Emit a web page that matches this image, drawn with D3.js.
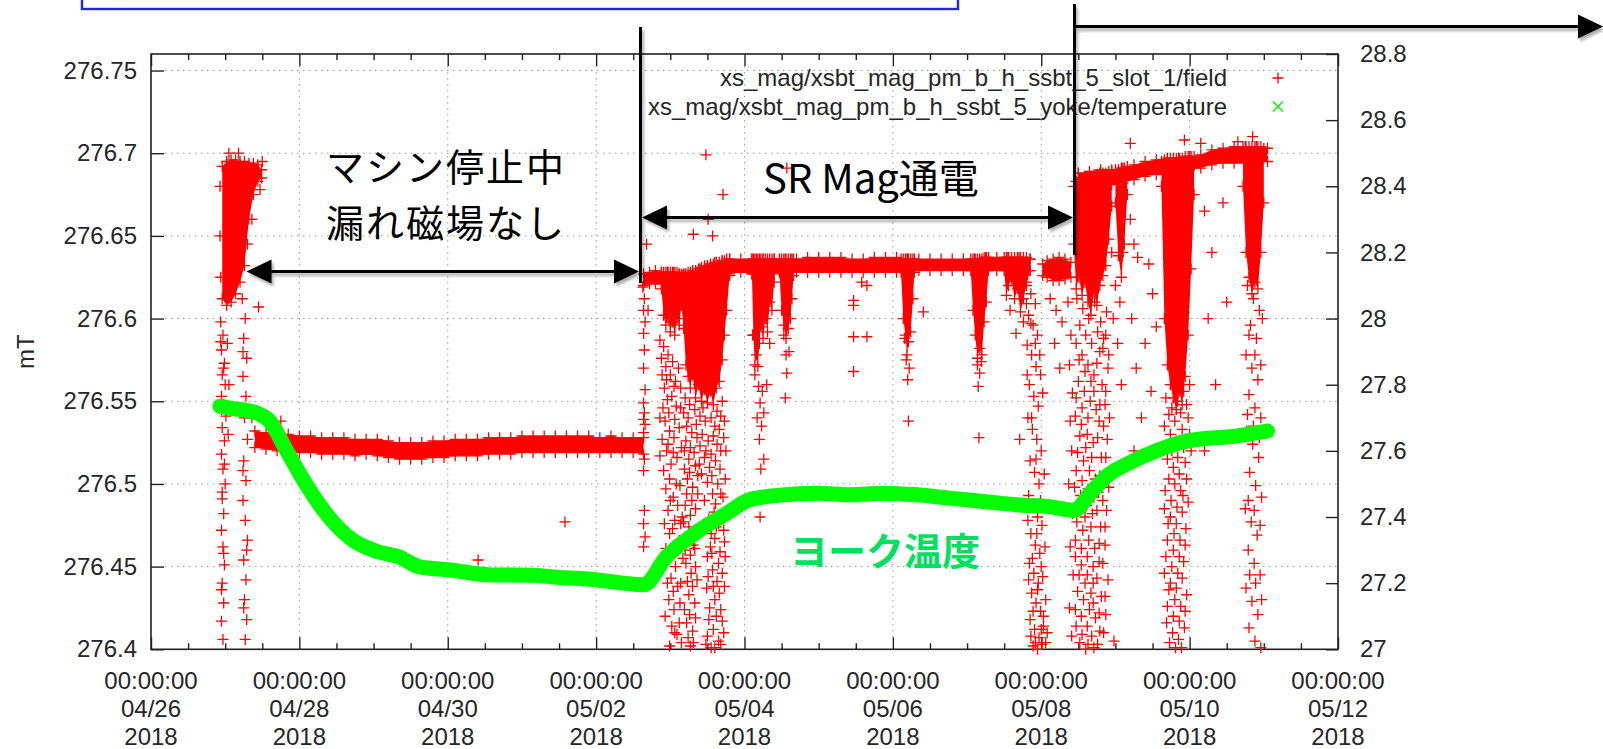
<!DOCTYPE html>
<html lang="ja">
<head>
<meta charset="utf-8">
<title>xsbt magnet field and yoke temperature</title>
<script src="https://cdn.jsdelivr.net/npm/d3@7/dist/d3.min.js"></script>
<style>
  html, body { margin: 0; padding: 0; background: #fff; }
  svg { display: block; }
  .lbl { font-family: "Liberation Sans", Arial, sans-serif; font-size: 24px; fill: #262626; }
  .note { font-family: "Noto Sans CJK JP", "Noto Sans CJK SC", sans-serif; }
</style>
</head>
<body>
<svg id="chart" width="1603" height="749"></svg>
<script>
// ---------- axes ----------
const xTickDates = ["2018-04-26", "2018-04-28", "2018-04-30", "2018-05-02", "2018-05-04",
                    "2018-05-06", "2018-05-08", "2018-05-10", "2018-05-12"];
const fieldTicks = [276.4, 276.45, 276.5, 276.55, 276.6, 276.65, 276.7, 276.75];
const tempTicks = [27, 27.2, 27.4, 27.6, 27.8, 28, 28.2, 28.4, 28.6, 28.8];
const fieldRange = [276.4, 276.76];
const tempRange = [27, 28.8];
const seriesNames = ["xs_mag/xsbt_mag_pm_b_h_ssbt_5_slot_1/field",
                     "xs_mag/xsbt_mag_pm_b_h_ssbt_5_yoke/temperature"];

// ---------- yoke temperature: days since 04/26 00:00, degC ----------
const tempDay = [0.93, 1.10, 1.30, 1.45, 1.60, 1.82, 2.10, 2.38, 2.72, 3.06, 3.34, 3.61, 4.03, 4.58,
                 5.13, 5.47, 5.96, 6.37, 6.64, 6.95, 7.40, 7.76, 8.07, 8.52, 8.97, 9.42, 9.87, 10.32,
                 10.77, 11.22, 11.67, 12.12, 12.44, 12.67, 12.89, 13.21, 13.57, 13.93, 14.24, 14.55,
                 14.91, 15.05];
const tempC = [27.735, 27.728, 27.722, 27.712, 27.690, 27.604, 27.495, 27.405, 27.330, 27.295, 27.280,
               27.250, 27.240, 27.225, 27.224, 27.218, 27.211, 27.200, 27.195, 27.280, 27.361, 27.411,
               27.452, 27.467, 27.472, 27.467, 27.472, 27.467, 27.457, 27.447, 27.437, 27.431, 27.420,
               27.474, 27.525, 27.566, 27.602, 27.628, 27.638, 27.643, 27.655, 27.660];

// ---------- field: dense runs of readings as [day, lowest, highest] (mT) ----------
const bandFirst = [[0.96, 276.612, 276.692], [1.02, 276.608, 276.695], [1.08, 276.610, 276.696],
  [1.14, 276.615, 276.696], [1.20, 276.622, 276.695], [1.26, 276.632, 276.695], [1.32, 276.660, 276.694],
  [1.38, 276.675, 276.694], [1.44, 276.683, 276.693], [1.49, 276.685, 276.690]];
const bandStop = [[1.40, 276.522, 276.532], [1.55, 276.521, 276.531], [1.70, 276.520, 276.530],
  [1.85, 276.520, 276.530], [2.00, 276.519, 276.529], [2.15, 276.519, 276.529], [2.30, 276.518, 276.528],
  [2.45, 276.518, 276.528], [2.60, 276.518, 276.528], [2.75, 276.517, 276.527], [2.90, 276.518, 276.527],
  [3.05, 276.517, 276.527], [3.20, 276.516, 276.526], [3.35, 276.515, 276.525], [3.50, 276.515, 276.525],
  [3.65, 276.515, 276.525], [3.80, 276.516, 276.526], [3.95, 276.516, 276.526], [4.10, 276.517, 276.527],
  [4.25, 276.517, 276.527], [4.40, 276.517, 276.527], [4.55, 276.518, 276.528], [4.70, 276.518, 276.528],
  [4.85, 276.518, 276.528], [5.00, 276.519, 276.529], [5.15, 276.519, 276.529], [5.30, 276.519, 276.529],
  [5.45, 276.519, 276.529], [5.60, 276.519, 276.529], [5.75, 276.519, 276.529], [5.90, 276.519, 276.529],
  [6.05, 276.519, 276.528], [6.20, 276.519, 276.529], [6.35, 276.519, 276.528], [6.50, 276.519, 276.528],
  [6.64, 276.518, 276.528]];
const bandRestart = [[6.64, 276.620, 276.627], [6.72, 276.621, 276.628], [6.80, 276.621, 276.629],
  [6.88, 276.621, 276.628], [6.96, 276.620, 276.628], [7.04, 276.621, 276.628], [7.12, 276.621, 276.627],
  [7.16, 276.622, 276.626]];
const bandRun = [[7.20, 276.620, 276.627], [7.30, 276.621, 276.628], [7.40, 276.622, 276.630],
  [7.50, 276.624, 276.632], [7.60, 276.625, 276.634], [7.70, 276.626, 276.635], [7.80, 276.627, 276.636],
  [7.95, 276.628, 276.636], [8.10, 276.627, 276.636], [8.25, 276.627, 276.636], [8.40, 276.627, 276.636],
  [8.55, 276.628, 276.636], [8.70, 276.628, 276.636], [8.85, 276.628, 276.637], [9.00, 276.628, 276.637],
  [9.15, 276.628, 276.637], [9.30, 276.628, 276.637], [9.45, 276.628, 276.636], [9.60, 276.628, 276.636],
  [9.75, 276.628, 276.637], [9.90, 276.628, 276.637], [10.05, 276.628, 276.637], [10.20, 276.628, 276.636],
  [10.35, 276.629, 276.636], [10.50, 276.629, 276.636], [10.65, 276.629, 276.636], [10.80, 276.629, 276.636],
  [10.95, 276.629, 276.636], [11.10, 276.629, 276.636], [11.25, 276.629, 276.637], [11.40, 276.629, 276.637],
  [11.55, 276.629, 276.637], [11.70, 276.628, 276.637], [11.85, 276.629, 276.636]];
const bandPause = [[12.02, 276.626, 276.633], [12.08, 276.625, 276.635], [12.16, 276.623, 276.636],
  [12.24, 276.623, 276.637], [12.32, 276.624, 276.636], [12.40, 276.625, 276.634]];
const bandLate = [[12.50, 276.678, 276.688], [12.65, 276.679, 276.689], [12.80, 276.680, 276.690],
  [12.95, 276.681, 276.690], [13.10, 276.682, 276.691], [13.25, 276.684, 276.693], [13.40, 276.686, 276.695],
  [13.55, 276.687, 276.696], [13.70, 276.688, 276.697], [13.85, 276.689, 276.697], [14.00, 276.690, 276.698],
  [14.15, 276.691, 276.699], [14.30, 276.693, 276.702], [14.45, 276.694, 276.703], [14.60, 276.694, 276.704],
  [14.75, 276.694, 276.704], [14.90, 276.695, 276.704], [15.05, 276.695, 276.703]];

// solid drop-outs hanging from the runs, [day, lowest, highest]
const dropSolid = [
  [[6.88, 276.618, 276.628], [6.91, 276.602, 276.628], [6.94, 276.596, 276.628], [6.97, 276.600, 276.628],
   [7.00, 276.592, 276.628], [7.03, 276.598, 276.628], [7.06, 276.590, 276.628], [7.09, 276.600, 276.628],
   [7.12, 276.596, 276.627], [7.15, 276.608, 276.627], [7.18, 276.594, 276.627], [7.21, 276.572, 276.627],
   [7.24, 276.565, 276.628], [7.27, 276.558, 276.628], [7.30, 276.566, 276.629], [7.34, 276.552, 276.629],
   [7.38, 276.560, 276.630], [7.42, 276.550, 276.631], [7.46, 276.557, 276.632], [7.50, 276.549, 276.632],
   [7.54, 276.556, 276.633], [7.58, 276.548, 276.633], [7.62, 276.558, 276.634], [7.66, 276.562, 276.634],
   [7.70, 276.575, 276.635], [7.73, 276.590, 276.635], [7.76, 276.605, 276.636], [7.80, 276.626, 276.636]],
  [[8.10, 276.627, 276.636], [8.12, 276.590, 276.636], [8.14, 276.572, 276.636], [8.16, 276.578, 276.636],
   [8.18, 276.571, 276.636], [8.20, 276.585, 276.636], [8.22, 276.595, 276.636], [8.25, 276.588, 276.636],
   [8.28, 276.600, 276.636], [8.31, 276.592, 276.636], [8.34, 276.610, 276.636], [8.37, 276.605, 276.636],
   [8.40, 276.622, 276.636]],
  [[8.47, 276.628, 276.636], [8.50, 276.605, 276.636], [8.53, 276.596, 276.636], [8.56, 276.588, 276.636],
   [8.59, 276.594, 276.636], [8.62, 276.600, 276.636], [8.64, 276.612, 276.636], [8.66, 276.626, 276.636]],
  [[10.11, 276.628, 276.636], [10.14, 276.600, 276.636], [10.17, 276.590, 276.636], [10.19, 276.578, 276.636],
   [10.21, 276.586, 276.636], [10.24, 276.592, 276.636], [10.27, 276.612, 276.636], [10.29, 276.628, 276.636]],
  [[11.05, 276.629, 276.636], [11.08, 276.605, 276.636], [11.11, 276.590, 276.636], [11.14, 276.576, 276.636],
   [11.17, 276.582, 276.636], [11.20, 276.578, 276.636], [11.23, 276.598, 276.637], [11.26, 276.610, 276.637],
   [11.29, 276.629, 276.637]],
  [[11.50, 276.629, 276.637], [11.53, 276.614, 276.637], [11.56, 276.620, 276.637], [11.60, 276.624, 276.637],
   [11.64, 276.612, 276.637], [11.68, 276.618, 276.637], [11.72, 276.604, 276.637], [11.76, 276.612, 276.637],
   [11.80, 276.620, 276.637], [11.85, 276.629, 276.636]],
  [[12.44, 276.645, 276.680], [12.47, 276.618, 276.683], [12.51, 276.625, 276.684], [12.55, 276.614, 276.685],
   [12.59, 276.622, 276.685], [12.63, 276.610, 276.686], [12.67, 276.602, 276.686], [12.71, 276.616, 276.687],
   [12.75, 276.608, 276.687], [12.79, 276.620, 276.688], [12.83, 276.626, 276.688], [12.87, 276.632, 276.688],
   [12.91, 276.648, 276.689], [12.95, 276.668, 276.689]],
  [[13.00, 276.670, 276.690], [13.04, 276.638, 276.690], [13.08, 276.625, 276.691], [13.12, 276.645, 276.691],
   [13.16, 276.675, 276.692]],
  [[13.62, 276.680, 276.695], [13.66, 276.600, 276.696], [13.70, 276.572, 276.696], [13.74, 276.560, 276.697],
   [13.78, 276.552, 276.697], [13.82, 276.545, 276.697], [13.86, 276.556, 276.697], [13.90, 276.548, 276.697],
   [13.94, 276.565, 276.698], [13.98, 276.590, 276.698], [14.02, 276.630, 276.698], [14.06, 276.675, 276.698]],
  [[14.72, 276.680, 276.704], [14.76, 276.640, 276.704], [14.80, 276.625, 276.704], [14.84, 276.615, 276.704],
   [14.88, 276.622, 276.704], [14.92, 276.618, 276.704], [14.96, 276.640, 276.704], [15.00, 276.670, 276.703]]
];

// ---------- field: single readings [day, mT] ----------
const scatterStop = [
  [0.93, 276.650], [0.93, 276.680], [0.94, 276.625], [1.05, 276.700], [1.18, 276.700], [1.50, 276.695],
  [1.47, 276.678], [1.36, 276.660], [1.30, 276.645],
  [0.94, 276.598], [0.97, 276.590], [0.95, 276.581], [0.99, 276.573], [0.96, 276.566], [1.00, 276.560],
  [0.95, 276.553], [0.98, 276.548], [1.01, 276.541], [0.96, 276.534], [0.99, 276.526], [0.95, 276.518],
  [0.97, 276.509], [1.00, 276.500], [0.96, 276.491], [0.98, 276.482], [0.95, 276.472], [0.97, 276.462],
  [0.99, 276.451], [0.96, 276.440], [0.98, 276.428], [0.95, 276.417], [0.97, 276.406], [1.03, 276.585],
  [1.05, 276.560], [1.04, 276.530],
  [0.94, 276.586], [0.98, 276.570], [0.95, 276.545], [0.99, 276.512], [0.96, 276.495], [0.98, 276.458],
  [0.95, 276.436],
  [1.23, 276.612], [1.27, 276.600], [1.25, 276.588], [1.29, 276.576], [1.24, 276.565], [1.28, 276.553],
  [1.26, 276.540], [1.30, 276.527], [1.25, 276.514], [1.28, 276.502], [1.24, 276.490], [1.27, 276.478],
  [1.30, 276.466], [1.25, 276.454], [1.28, 276.442], [1.26, 276.430], [1.29, 276.418], [1.27, 276.406],
  [1.24, 276.580], [1.27, 276.545], [1.24, 276.508], [1.29, 276.460], [1.25, 276.425],
  [1.33, 276.545], [1.36, 276.540], [1.45, 276.607], [1.60, 276.540], [1.75, 276.538],
  [4.41, 276.454], [5.58, 276.477]
];
const scatterRestart = [
  [6.63, 276.619], [6.65, 276.612], [6.64, 276.605], [6.66, 276.598], [6.64, 276.591], [6.65, 276.581],
  [6.64, 276.570], [6.66, 276.557], [6.64, 276.549], [6.65, 276.543], [6.64, 276.539], [6.66, 276.536],
  [6.64, 276.531], [6.65, 276.515], [6.64, 276.508], [6.65, 276.484], [6.64, 276.476], [6.66, 276.468],
  [6.64, 276.462], [6.68, 276.645], [6.70, 276.605],
  [6.86, 276.587], [6.88, 276.576], [6.91, 276.583], [6.94, 276.571], [6.97, 276.578], [7.00, 276.566],
  [7.03, 276.574], [7.07, 276.562], [7.11, 276.570], [6.92, 276.558], [6.96, 276.551], [7.02, 276.553],
  [7.08, 276.547], [6.86, 276.540], [6.93, 276.538], [6.99, 276.532], [7.05, 276.528], [7.12, 276.534],
  [6.86, 276.517], [6.95, 276.520], [7.01, 276.512], [7.09, 276.516], [6.99, 276.503], [6.94, 276.497],
  [7.04, 276.492], [7.13, 276.499], [6.97, 276.484], [7.06, 276.478], [7.10, 276.487], [6.99, 276.470],
  [7.03, 276.462], [7.12, 276.466], [6.96, 276.455], [7.07, 276.450], [7.01, 276.443], [7.10, 276.438],
  [6.98, 276.430], [7.05, 276.424], [7.13, 276.428], [7.02, 276.414], [7.09, 276.409], [6.99, 276.402],
  [7.15, 276.404], [7.17, 276.455], [7.16, 276.480],
  [6.89, 276.566], [6.95, 276.563], [7.05, 276.559], [7.14, 276.558], [6.90, 276.546], [6.98, 276.543],
  [7.06, 276.539], [7.14, 276.546], [6.89, 276.527], [6.97, 276.524], [7.04, 276.519], [7.15, 276.522],
  [6.91, 276.508], [7.00, 276.490], [7.08, 276.500], [6.92, 276.476], [7.03, 276.473], [7.14, 276.476],
  [6.94, 276.461], [7.08, 276.460], [6.96, 276.440], [7.04, 276.435], [7.14, 276.440], [6.93, 276.420],
  [7.06, 276.410], [7.12, 276.416],
  [7.20, 276.552], [7.26, 276.548], [7.33, 276.545], [7.40, 276.541], [7.47, 276.538], [7.55, 276.540],
  [7.63, 276.544], [7.70, 276.550], [7.22, 276.535], [7.29, 276.531], [7.36, 276.528], [7.43, 276.530],
  [7.51, 276.526], [7.58, 276.529], [7.66, 276.533], [7.73, 276.538], [7.19, 276.520], [7.25, 276.515],
  [7.32, 276.519], [7.39, 276.512], [7.46, 276.516], [7.53, 276.510], [7.61, 276.514], [7.68, 276.520],
  [7.23, 276.503], [7.30, 276.498], [7.37, 276.505], [7.50, 276.501], [7.57, 276.494], [7.64, 276.500],
  [7.71, 276.492], [7.20, 276.487], [7.27, 276.481], [7.34, 276.485], [7.52, 276.479], [7.59, 276.483],
  [7.65, 276.476], [7.70, 276.481], [7.24, 276.468], [7.31, 276.463], [7.54, 276.462], [7.60, 276.467],
  [7.67, 276.459], [7.73, 276.465], [7.21, 276.452], [7.28, 276.446], [7.34, 276.450], [7.51, 276.444],
  [7.57, 276.448], [7.63, 276.441], [7.70, 276.446], [7.25, 276.433], [7.33, 276.428], [7.53, 276.425],
  [7.60, 276.430], [7.68, 276.424], [7.22, 276.416], [7.30, 276.411], [7.50, 276.408], [7.58, 276.412],
  [7.65, 276.405], [7.72, 276.410], [7.27, 276.402], [7.55, 276.401], [7.75, 276.520],
  [7.18, 276.543], [7.24, 276.540], [7.35, 276.536], [7.44, 276.546], [7.60, 276.535], [7.68, 276.541],
  [7.21, 276.526], [7.27, 276.522], [7.40, 276.523], [7.48, 276.520], [7.55, 276.518], [7.63, 276.524],
  [7.72, 276.528], [7.19, 276.509], [7.26, 276.507], [7.34, 276.511], [7.42, 276.506], [7.56, 276.505],
  [7.67, 276.509], [7.74, 276.503], [7.22, 276.494], [7.29, 276.490], [7.37, 276.494], [7.46, 276.490],
  [7.61, 276.488], [7.68, 276.494], [7.18, 276.477], [7.25, 276.474], [7.32, 276.472], [7.55, 276.470],
  [7.62, 276.474], [7.72, 276.472], [7.20, 276.460], [7.27, 276.457], [7.33, 276.461], [7.50, 276.456],
  [7.56, 276.458], [7.65, 276.452], [7.74, 276.456], [7.23, 276.441], [7.30, 276.438], [7.36, 276.442],
  [7.49, 276.437], [7.58, 276.438], [7.66, 276.434], [7.73, 276.438], [7.19, 276.424], [7.26, 276.421],
  [7.34, 276.419], [7.52, 276.418], [7.62, 276.420], [7.70, 276.417], [7.24, 276.407], [7.31, 276.404],
  [7.48, 276.403], [7.60, 276.401], [7.68, 276.403],
  [7.31, 276.651], [7.48, 276.699], [7.51, 276.660], [7.57, 276.650], [7.71, 276.675], [8.57, 276.691]
];
const scatterRun = [
  [8.14, 276.566], [8.19, 276.559], [8.24, 276.556], [8.21, 276.549], [8.26, 276.543], [8.17, 276.540],
  [8.23, 276.535], [8.20, 276.527], [8.26, 276.515], [8.22, 276.509], [8.21, 276.480], [8.30, 276.560],
  [8.34, 276.585], [8.11, 276.590],
  [8.56, 276.578], [8.57, 276.567], [8.55, 276.552], [8.60, 276.580], [8.53, 276.590],
  [9.47, 276.611], [9.47, 276.608], [9.47, 276.589], [9.65, 276.589], [9.47, 276.568], [9.65, 276.620],
  [9.58, 276.622],
  [10.18, 276.575], [10.22, 276.570], [10.20, 276.563], [10.21, 276.538], [10.41, 276.604], [10.16, 276.588],
  [11.14, 276.572], [11.17, 276.567], [11.15, 276.559], [11.16, 276.528], [11.19, 276.574],
  [11.66, 276.591], [11.71, 276.527], [11.58, 276.605], [11.76, 276.598]
];
const scatterLate = [
  [11.80, 276.622], [11.86, 276.615], [11.92, 276.609], [11.83, 276.602], [11.89, 276.596], [11.95, 276.590],
  [11.81, 276.584], [11.87, 276.578], [11.93, 276.571], [11.99, 276.566], [11.84, 276.560], [11.90, 276.553],
  [11.96, 276.547], [12.02, 276.555], [11.82, 276.540], [11.88, 276.533], [11.94, 276.527], [12.00, 276.520],
  [11.85, 276.514], [11.91, 276.507], [11.97, 276.500], [12.04, 276.506], [11.83, 276.493], [11.89, 276.487],
  [11.95, 276.480], [12.01, 276.475], [11.86, 276.470], [11.92, 276.463], [11.98, 276.458], [12.05, 276.462],
  [11.84, 276.452], [11.90, 276.446], [11.96, 276.440], [12.02, 276.444], [11.87, 276.434], [11.93, 276.428],
  [11.99, 276.423], [12.06, 276.430], [11.85, 276.418], [11.91, 276.412], [11.97, 276.407], [12.03, 276.414],
  [11.89, 276.402], [11.95, 276.400], [12.01, 276.403], [12.08, 276.410],
  [11.80, 276.609], [11.86, 276.597], [11.92, 276.585], [11.98, 276.578], [11.81, 276.566], [11.87, 276.540],
  [11.93, 276.515], [11.99, 276.490], [11.82, 276.478], [11.88, 276.455], [11.94, 276.470], [12.00, 276.450],
  [11.83, 276.442], [11.89, 276.423], [11.95, 276.436], [12.03, 276.420], [11.86, 276.408], [11.92, 276.404],
  [12.00, 276.412], [12.06, 276.404],
  [12.12, 276.612], [12.20, 276.605], [12.28, 276.598], [12.36, 276.610], [12.40, 276.590], [12.38, 276.572],
  [12.42, 276.555], [12.39, 276.538], [12.41, 276.520], [12.37, 276.500], [12.42, 276.482], [12.39, 276.462],
  [12.43, 276.445], [12.38, 276.425], [12.41, 276.408], [12.18, 276.585], [12.25, 276.570],
  [12.48, 276.612], [12.56, 276.606], [12.64, 276.600], [12.72, 276.610], [12.80, 276.598], [12.88, 276.604],
  [12.52, 276.596], [12.60, 276.590], [12.68, 276.585], [12.76, 276.592], [12.84, 276.588],
  [12.47, 276.585], [12.55, 276.578], [12.63, 276.572], [12.71, 276.566], [12.79, 276.580], [12.87, 276.590],
  [12.50, 276.562], [12.58, 276.556], [12.66, 276.550], [12.74, 276.545], [12.82, 276.560], [12.90, 276.570],
  [12.46, 276.541], [12.54, 276.536], [12.62, 276.530], [12.70, 276.525], [12.78, 276.538], [12.86, 276.548],
  [12.49, 276.519], [12.57, 276.514], [12.65, 276.508], [12.73, 276.503], [12.81, 276.516], [12.89, 276.527],
  [12.45, 276.498], [12.53, 276.493], [12.61, 276.487], [12.69, 276.482], [12.77, 276.495], [12.85, 276.505],
  [12.48, 276.477], [12.56, 276.472], [12.64, 276.466], [12.72, 276.461], [12.80, 276.474], [12.88, 276.484],
  [12.46, 276.456], [12.54, 276.451], [12.62, 276.445], [12.70, 276.440], [12.78, 276.453], [12.86, 276.463],
  [12.49, 276.435], [12.57, 276.430], [12.65, 276.424], [12.73, 276.419], [12.81, 276.432], [12.90, 276.442],
  [12.47, 276.414], [12.55, 276.409], [12.63, 276.403], [12.71, 276.401], [12.79, 276.411], [12.87, 276.421],
  [12.51, 276.575], [12.59, 276.568], [12.67, 276.562], [12.75, 276.573], [12.83, 276.582], [12.91, 276.578],
  [12.47, 276.552], [12.55, 276.546], [12.63, 276.540], [12.71, 276.556], [12.79, 276.548], [12.87, 276.556],
  [12.52, 276.529], [12.60, 276.522], [12.68, 276.516], [12.76, 276.528], [12.84, 276.535], [12.92, 276.540],
  [12.47, 276.508], [12.55, 276.502], [12.63, 276.497], [12.71, 276.492], [12.79, 276.505], [12.87, 276.516],
  [12.51, 276.487], [12.59, 276.480], [12.67, 276.474], [12.75, 276.484], [12.83, 276.490], [12.91, 276.498],
  [12.46, 276.466], [12.54, 276.461], [12.62, 276.456], [12.70, 276.450], [12.78, 276.464], [12.86, 276.474],
  [12.51, 276.445], [12.59, 276.440], [12.67, 276.434], [12.75, 276.443], [12.83, 276.452],
  [12.46, 276.424], [12.54, 276.420], [12.62, 276.414], [12.70, 276.428], [12.78, 276.422], [12.86, 276.432],
  [12.52, 276.404], [12.60, 276.400], [12.68, 276.408], [12.76, 276.403], [12.84, 276.410],
  [12.95, 276.640], [13.00, 276.620], [12.97, 276.600], [13.03, 276.585], [13.06, 276.610], [13.10, 276.640],
  [13.08, 276.560], [12.98, 276.405],
  [13.20, 276.706], [13.93, 276.708], [14.15, 276.706], [14.65, 276.707], [14.85, 276.710],
  [13.20, 276.660], [13.25, 276.645], [13.30, 276.637], [13.45, 276.633], [13.50, 276.615], [13.22, 276.600],
  [13.40, 276.585], [13.28, 276.570], [13.48, 276.556], [13.35, 276.540], [13.25, 276.520], [13.55, 276.595],
  [13.68, 276.552], [13.76, 276.546], [13.84, 276.550], [13.92, 276.556], [14.00, 276.560],
  [13.66, 276.535], [13.74, 276.530], [13.82, 276.526], [13.90, 276.533], [13.98, 276.540],
  [13.70, 276.515], [13.78, 276.510], [13.86, 276.506], [13.94, 276.513], [14.02, 276.520],
  [13.67, 276.496], [13.75, 276.490], [13.83, 276.486], [13.91, 276.493],
  [13.71, 276.476], [13.79, 276.470], [13.87, 276.466], [13.95, 276.473],
  [13.68, 276.456], [13.76, 276.450], [13.84, 276.446], [13.92, 276.453],
  [13.72, 276.436], [13.80, 276.430], [13.88, 276.426], [13.96, 276.433],
  [13.69, 276.416], [13.77, 276.410], [13.85, 276.406], [13.93, 276.413], [13.81, 276.401],
  [13.72, 276.542], [13.80, 276.538], [13.88, 276.543], [13.96, 276.548],
  [13.68, 276.523], [13.76, 276.520], [13.84, 276.516], [13.92, 276.522], [14.00, 276.530],
  [13.72, 276.503], [13.80, 276.500], [13.88, 276.496], [13.96, 276.503],
  [13.66, 276.485], [13.74, 276.480], [13.82, 276.476], [13.90, 276.483], [13.98, 276.489],
  [13.70, 276.466], [13.78, 276.460], [13.86, 276.456], [13.94, 276.463],
  [13.66, 276.446], [13.74, 276.440], [13.82, 276.437], [13.90, 276.443],
  [13.70, 276.426], [13.78, 276.420], [13.86, 276.417], [13.94, 276.423],
  [13.73, 276.404], [13.89, 276.401],
  [14.20, 276.665], [14.30, 276.640], [14.25, 276.600], [14.35, 276.560], [14.20, 276.520], [14.45, 276.670],
  [14.50, 276.610],
  [14.78, 276.620], [14.86, 276.612], [14.94, 276.605], [14.82, 276.596], [14.90, 276.588], [14.98, 276.600],
  [14.76, 276.578], [14.84, 276.570], [14.92, 276.563], [14.80, 276.554], [14.88, 276.546], [14.96, 276.540],
  [14.77, 276.532], [14.85, 276.524], [14.93, 276.516], [14.81, 276.507], [14.89, 276.499], [14.97, 276.492],
  [14.75, 276.485], [14.83, 276.477], [14.91, 276.469], [14.79, 276.460], [14.87, 276.452], [14.95, 276.445],
  [14.76, 276.437], [14.84, 276.429], [14.92, 276.421], [14.80, 276.413], [14.88, 276.405], [14.96, 276.401],
  [14.80, 276.590], [14.88, 276.578], [14.96, 276.572], [14.78, 276.542], [14.86, 276.535], [14.94, 276.528],
  [14.79, 276.490], [14.87, 276.484], [14.95, 276.475], [14.81, 276.445], [14.89, 276.440], [14.97, 276.430]
];

// ---------- layout ----------
const svg = d3.select("#chart");
const plot = { left: 151, right: 1338, top: 54, bottom: 649.3 };
const parseDay = d3.utcParse("%Y-%m-%d");
const xTicks = xTickDates.map(parseDay);
const t0 = xTicks[0].getTime();
const at = d => new Date(t0 + d * 864e5);

const x = d3.scaleUtc().domain([xTicks[0], xTicks[xTicks.length - 1]]).range([plot.left, plot.right]);
const y = d3.scaleLinear().domain(fieldRange).range([plot.bottom, plot.top]);
const y2 = d3.scaleLinear().domain(tempRange).range([plot.bottom, plot.top]);

const defs = svg.append("defs");
defs.append("filter").attr("id", "shade")
  .attr("filterUnits", "userSpaceOnUse").attr("x", 0).attr("y", 0).attr("width", 1603).attr("height", 749)
  .append("feDropShadow").attr("dx", 2).attr("dy", 3).attr("stdDeviation", 1.8)
  .attr("flood-color", "#000").attr("flood-opacity", 0.33);

// marker shapes
const plusShape = { draw(ctx, size) { const r = Math.sqrt(size) / 2; ctx.moveTo(-r, 0); ctx.lineTo(r, 0); ctx.moveTo(0, -r); ctx.lineTo(0, r); } };
const crossShape = { draw(ctx, size) { const r = Math.sqrt(size) / 2; ctx.moveTo(-r, -r); ctx.lineTo(r, r); ctx.moveTo(-r, r); ctx.lineTo(r, -r); } };

// ---------- grid ----------
const grid = svg.append("g").attr("stroke", "#9a9a9a").attr("stroke-width", 1).attr("stroke-dasharray", "1.5,4.5");
grid.selectAll("line.h").data(fieldTicks.slice(1)).join("line").attr("class", "h")
  .attr("x1", plot.left + 14).attr("x2", plot.right).attr("y1", d => y(d)).attr("y2", d => y(d));
grid.selectAll("line.v").data(xTicks.slice(1, -1)).join("line").attr("class", "v")
  .attr("x1", d => x(d)).attr("x2", d => x(d)).attr("y1", plot.top + 12).attr("y2", plot.bottom - 12);

// ---------- axes ----------
function styleAxis(g) {
  g.select(".domain").remove();
  g.selectAll(".tick line").attr("stroke", "#222").attr("stroke-width", 1.4);
  g.attr("font-family", null).attr("font-size", null);
  g.selectAll(".tick text").attr("class", "lbl").attr("fill", null);
}
const minorTicks = d3.utcHour.every(12).range(xTicks[0], xTicks[xTicks.length - 1])
  .filter(t => !xTicks.some(m => m.getTime() === t.getTime()));

svg.append("g").attr("transform", `translate(0,${plot.bottom})`)
  .call(d3.axisBottom(x).tickValues(xTicks).tickSizeInner(-12).tickSizeOuter(0).tickFormat(() => "")).call(styleAxis);
svg.append("g").attr("transform", `translate(0,${plot.bottom})`)
  .call(d3.axisBottom(x).tickValues(minorTicks).tickSizeInner(-6).tickSizeOuter(0).tickFormat(() => "")).call(styleAxis);
svg.append("g").attr("transform", `translate(0,${plot.top})`)
  .call(d3.axisTop(x).tickValues(xTicks).tickSizeInner(-12).tickSizeOuter(0).tickFormat(() => "")).call(styleAxis);
svg.append("g").attr("transform", `translate(0,${plot.top})`)
  .call(d3.axisTop(x).tickValues(minorTicks).tickSizeInner(-6).tickSizeOuter(0).tickFormat(() => "")).call(styleAxis);
svg.append("g").attr("transform", `translate(${plot.left},0)`)
  .call(d3.axisLeft(y).tickValues(fieldTicks).tickSizeInner(-13).tickSizeOuter(0).tickPadding(14).tickFormat(d => String(d)))
  .call(styleAxis);
svg.append("g").attr("transform", `translate(${plot.right},0)`)
  .call(d3.axisRight(y2).tickValues(tempTicks).tickSizeInner(-12).tickSizeOuter(0).tickPadding(22).tickFormat(d => String(d)))
  .call(styleAxis);

// three-line time labels
const fmtTime = d3.utcFormat("%H:%M:%S"), fmtDay = d3.utcFormat("%m/%d"), fmtYear = d3.utcFormat("%Y");
const xl = svg.append("g").attr("class", "lbl").attr("text-anchor", "middle");
xl.selectAll("text").data(xTicks).join("text").attr("x", d => x(d)).attr("y", 688.5)
  .call(t => t.append("tspan").attr("x", d => x(d)).text(fmtTime))
  .call(t => t.append("tspan").attr("x", d => x(d)).attr("dy", 28).text(fmtDay))
  .call(t => t.append("tspan").attr("x", d => x(d)).attr("dy", 28).text(fmtYear));

svg.append("text").attr("class", "lbl").attr("text-anchor", "middle")
  .attr("transform", `translate(34,${(plot.top + plot.bottom) / 2}) rotate(-90)`).text("mT");

// border
svg.append("rect").attr("x", plot.left).attr("y", plot.top)
  .attr("width", plot.right - plot.left).attr("height", plot.bottom - plot.top)
  .attr("fill", "none").attr("stroke", "#222").attr("stroke-width", 1.6);

// ---------- field series ----------
const red = "#ff0000";
const bands = [bandFirst, bandStop, bandRestart, bandRun, bandPause, bandLate, ...dropSolid];
const area = d3.area().x(d => x(at(d[0]))).y0(d => y(d[1])).y1(d => y(d[2]));
svg.append("g").selectAll("path").data(bands).join("path").attr("d", area).attr("fill", red);

const fieldPoints = [
  ...bands.flatMap(b => b.flatMap(([d, lo, hi]) => [[d, lo], [d, hi]])),
  ...scatterStop, ...scatterRestart, ...scatterRun, ...scatterLate
];
const plus = d3.symbol().type(plusShape).size(121);
svg.append("g").attr("stroke", red).attr("stroke-width", 1.3).attr("fill", "none")
  .selectAll("path").data(fieldPoints).join("path")
  .attr("transform", d => `translate(${x(at(d[0]))},${y(d[1])})`).attr("d", plus);

// ---------- temperature series ----------
const tempPoints = tempDay.map((d, i) => [d, tempC[i]]);
svg.append("path").datum(tempPoints)
  .attr("d", d3.line().x(d => x(at(d[0]))).y(d => y2(d[1])).curve(d3.curveMonotoneX))
  .attr("fill", "none").attr("stroke", "#00ff00").attr("stroke-width", 15)
  .attr("stroke-linecap", "round").attr("stroke-linejoin", "round");

// ---------- legend ----------
const legend = svg.append("g").attr("class", "lbl").attr("text-anchor", "end");
legend.selectAll("text").data(seriesNames).join("text")
  .attr("x", 1227).attr("y", (d, i) => 86 + i * 28.5).text(d => d);
svg.append("path").attr("transform", "translate(1278,78)").attr("d", d3.symbol().type(plusShape).size(121)())
  .attr("stroke", red).attr("stroke-width", 1.3);
svg.append("path").attr("transform", "translate(1278,106.5)").attr("d", d3.symbol().type(crossShape).size(100)())
  .attr("stroke", "#00ff00").attr("stroke-width", 1.5);

// ---------- annotations ----------
svg.append("rect").attr("x", 82).attr("y", -20).attr("width", 876).attr("height", 29)
  .attr("fill", "none").attr("stroke", "#2020f0").attr("stroke-width", 2.4);

const ann = svg.append("g").attr("filter", "url(#shade)");
function vline(xx, ya, yb) {
  ann.append("line").attr("x1", xx).attr("x2", xx).attr("y1", ya).attr("y2", yb)
    .attr("stroke", "#000").attr("stroke-width", 3);
}
function harrow(xa, xb, yy, headA, headB) {
  const L = 25, Hh = 12;
  ann.append("line").attr("x1", headA ? xa + L - 2 : xa).attr("x2", headB ? xb - L + 2 : xb)
    .attr("y1", yy).attr("y2", yy).attr("stroke", "#000").attr("stroke-width", 3);
  if (headA) ann.append("path").attr("d", `M${xa},${yy}L${xa + L},${yy - Hh}L${xa + L},${yy + Hh}Z`).attr("fill", "#000");
  if (headB) ann.append("path").attr("d", `M${xb},${yy}L${xb - L},${yy - Hh}L${xb - L},${yy + Hh}Z`).attr("fill", "#000");
}
vline(640.5, 27, 283);
vline(1074.5, 4, 255);
harrow(246.5, 639, 271.5, true, true);
harrow(642, 1073, 217.5, true, true);
harrow(1074.5, 1603, 26.5, false, true);

const note = svg.append("g").attr("class", "note").attr("text-anchor", "middle");
note.append("text").attr("x", 446).attr("y", 181).attr("font-size", 38).attr("letter-spacing", 2).text("マシン停止中");
note.append("text").attr("x", 446).attr("y", 237).attr("font-size", 38).attr("letter-spacing", 2).text("漏れ磁場なし");
note.append("text").attr("x", 871).attr("y", 193).attr("font-size", 40).text("SR Mag通電");
note.append("text").attr("x", 885).attr("y", 565).attr("font-size", 38).attr("font-weight", 700)
  .attr("fill", "#00e060").text("ヨーク温度");
</script>
</body>
</html>
